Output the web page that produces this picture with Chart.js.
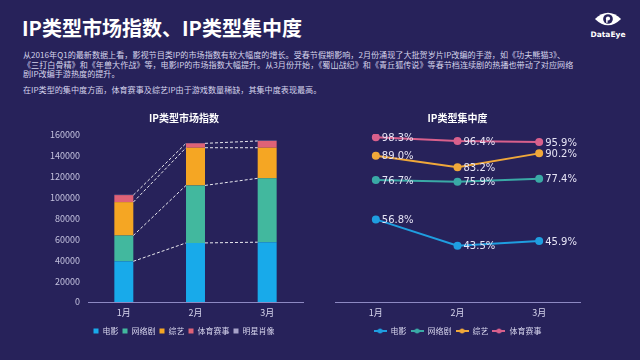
<!DOCTYPE html>
<html>
<head>
<meta charset="utf-8">
<script src="https://cdn.jsdelivr.net/npm/chart.js@4.4.1/dist/chart.umd.min.js"></script>
<style>
  html, body { margin: 0; padding: 0; }
  body { width: 640px; height: 360px; background: #27225a; position: relative; overflow: hidden;
         font-family: "Noto Sans CJK SC", "Noto Sans", sans-serif; }
  #title { position: absolute; left: 22px; top: 14px; color: #fff; font-size: 20px; font-weight: bold; line-height: 28px; white-space: nowrap; }
  #desc { position: absolute; left: 23px; top: 50px; color: #d6d4ec; font-size: 8.1px; line-height: 9.7px; white-space: nowrap; }
  #desc p { margin: 0; }
  #desc p.gap { margin-top: 6px; }
  #logo { position: absolute; left: 590px; top: 11px; width: 36px; text-align: center; color: #fff; }
  #logo svg { display: block; margin: 0 auto; }
  #logo span { display: block; font-family: "DejaVu Sans", sans-serif; font-size: 7.5px; font-weight: bold; line-height: 9px; margin-top: 3px; }
  #c1 { position: absolute; left: 34px; top: 105px; }
  #c2 { position: absolute; left: 325px; top: 105px; }
</style>
</head>
<body>
<div id="title">IP类型市场指数、IP类型集中度</div>
<div id="desc">
  <p>从2016年Q1的最新数据上看，影视节目类IP的市场指数有较大幅度的增长。受春节假期影响，2月份涌现了大批贺岁片IP改编的手游，如《功夫熊猫3》、</p>
  <p>《三打白骨精》和《年兽大作战》等，电影IP的市场指数大幅提升。从3月份开始，《蜀山战纪》和《青丘狐传说》等春节档连续剧的热播也带动了对应网络</p>
  <p>剧IP改编手游热度的提升。</p>
  <p class="gap">在IP类型的集中度方面，体育赛事及综艺IP由于游戏数量稀缺，其集中度表现最高。</p>
</div>
<div id="logo">
  <svg width="28" height="16" viewBox="0 0 30 17">
    <path d="M1 8.5 Q15 -5 29 8.5 Q15 22 1 8.5 Z" fill="#fff"/>
    <circle cx="15" cy="8.5" r="5.2" fill="#27225a"/>
    <circle cx="15" cy="8" r="2.2" fill="#fff"/>
    <rect x="13" y="8" width="1.6" height="4.5" fill="#fff"/>
  </svg>
  <span>DataEye</span>
</div>
<canvas id="c1" width="300" height="245"></canvas>
<canvas id="c2" width="265" height="245"></canvas>
<script>
const months = ['1月', '2月', '3月'];

// IP类型市场指数 (stacked)
const barNames = ['电影', '网络剧', '综艺', '体育赛事', '明星肖像'];
const movie = [39000, 56600, 57300];
const webDrama = [24700, 55100, 61200];
const variety = [32000, 36100, 29300];
const sports = [6700, 4200, 6500];
const star = [300, 300, 300];
const barColors = ['#18aaea', '#42b89e', '#f5a623', '#df6277', '#a7a2c9'];

// IP类型集中度 (%)
const lineNames = ['电影', '网络剧', '综艺', '体育赛事'];
const movieC = [56.8, 43.5, 45.9];
const webDramaC = [76.7, 75.9, 77.4];
const varietyC = [89.0, 83.2, 90.2];
const sportsC = [98.3, 96.4, 95.9];
const lineColors = ['#1f9ee0', '#3aaaa6', '#f0a83a', '#d9608c'];

const yTicks = [0, 20000, 40000, 60000, 80000, 100000, 120000, 140000, 160000];

const textCol = '#d6d4ec';
const axisCol = '#8d89c2';
const font = '"Noto Sans CJK SC", "Noto Sans", sans-serif';

const dashLinks = {
  id: 'dashLinks',
  afterDatasetsDraw(chart) {
    const ctx = chart.ctx;
    ctx.save();
    ctx.strokeStyle = 'rgba(255,255,255,0.9)';
    ctx.lineWidth = 1;
    ctx.setLineDash([3, 2]);
    chart.data.datasets.forEach((ds, d) => {
      if (d === chart.data.datasets.length - 1) return;
      const els = chart.getDatasetMeta(d).data;
      for (let i = 0; i < els.length - 1; i++) {
        const a = els[i], b = els[i + 1];
        ctx.beginPath();
        ctx.moveTo(a.x + a.width / 2, a.y);
        ctx.lineTo(b.x - b.width / 2, b.y);
        ctx.stroke();
      }
    });
    ctx.restore();
  }
};

new Chart(document.getElementById('c1'), {
  type: 'bar',
  data: {
    labels: months,
    datasets: [movie, webDrama, variety, sports, star].map((v, i) => ({
      label: barNames[i], data: v, backgroundColor: barColors[i],
      barPercentage: 0.265, categoryPercentage: 1
    }))
  },
  options: {
    responsive: false,
    animation: false,
    layout: { padding: { left: 0, right: 0, top: 0, bottom: 5 } },
    plugins: {
      title: { display: true, text: 'IP类型市场指数', color: '#fff',
        font: { family: font, size: 10, weight: 'bold' }, padding: { top: 7, bottom: 11 } },
      legend: { position: 'bottom',
        labels: { color: textCol, font: { family: font, size: 8 }, boxWidth: 5, boxHeight: 5, padding: 4 } },
      tooltip: { enabled: false }
    },
    scales: {
      x: { stacked: true, grid: { display: false, drawTicks: false }, border: { display: true, color: axisCol },
        ticks: { color: textCol, font: { family: font, size: 9, lineHeight: 1 }, padding: 6 } },
      y: { stacked: true, min: 0, max: 160000, grid: { display: false, drawTicks: false }, border: { display: false },
        afterBuildTicks: s => { s.ticks = yTicks.map(v => ({ value: v })); },
        afterFit: s => { s.width = 54; },
        ticks: { color: '#c4c2de', font: { family: font, size: 9 }, padding: 8, callback: v => String(v) } },
      spacer: { type: 'linear', position: 'right', grid: { display: false, drawTicks: false },
        border: { display: false }, ticks: { display: false },
        afterFit: s => { s.width = 31; } }
    }
  },
  plugins: [dashLinks]
});

function legendImg(color) {
  const c = document.createElement('canvas');
  c.width = 13; c.height = 6;
  const g = c.getContext('2d');
  g.strokeStyle = color; g.lineWidth = 2;
  g.beginPath(); g.moveTo(0, 3); g.lineTo(13, 3); g.stroke();
  g.fillStyle = color;
  g.beginPath(); g.arc(6.5, 3, 2.5, 0, Math.PI * 2); g.fill();
  return c;
}
const legendImgs = lineColors.map(legendImg);

const pctLabels = {
  id: 'pctLabels',
  afterDatasetsDraw(chart) {
    const ctx = chart.ctx;
    ctx.save();
    ctx.fillStyle = '#e6e4f5';
    ctx.font = '10px "DejaVu Sans", sans-serif';
    ctx.textBaseline = 'middle';
    chart.data.datasets.forEach((ds, d) => {
      chart.getDatasetMeta(d).data.forEach((p, i) => {
        ctx.fillText(ds.data[i].toFixed(1) + '%', p.x + 6, p.y + 1);
      });
    });
    ctx.restore();
  }
};

new Chart(document.getElementById('c2'), {
  type: 'line',
  data: {
    labels: months,
    datasets: [movieC, webDramaC, varietyC, sportsC].map((v, i) => ({
      label: lineNames[i], data: v, borderColor: lineColors[i], backgroundColor: lineColors[i],
      borderWidth: 2, pointRadius: 3, pointHoverRadius: 3, tension: 0
    }))
  },
  options: {
    responsive: false,
    animation: false,
    layout: { padding: { left: 10, right: 10, top: 0, bottom: 5 } },
    plugins: {
      title: { display: true, text: 'IP类型集中度', color: '#fff',
        font: { family: font, size: 10, weight: 'bold' }, padding: { top: 7, bottom: 10 } },
      legend: { position: 'bottom',
        labels: { color: textCol, font: { family: font, size: 8 }, usePointStyle: true, pointStyleWidth: 13,
          boxHeight: 6, padding: 4,
          generateLabels: ch => Chart.defaults.plugins.legend.labels.generateLabels(ch)
            .map(l => Object.assign(l, { pointStyle: legendImgs[l.datasetIndex] })) } },
      tooltip: { enabled: false }
    },
    scales: {
      x: { offset: true, grid: { display: false, drawTicks: false }, border: { display: true, color: axisCol },
        ticks: { color: textCol, font: { family: font, size: 9, lineHeight: 1 }, padding: 6 } },
      y: { display: false, min: 15, max: 100 }
    }
  },
  plugins: [pctLabels]
});
</script>
</body>
</html>
